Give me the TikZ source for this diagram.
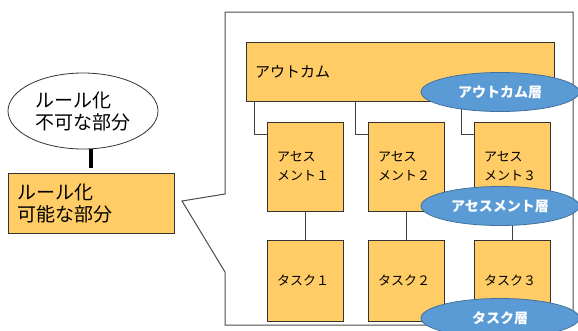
\documentclass[tikz,border=0pt]{standalone}
\usepackage{fontspec}
\setmainfont{Noto Sans CJK JP}
\usetikzlibrary{shapes}
\definecolor{boxfill}{RGB}{255,204,102}
\definecolor{layerfill}{RGB}{91,155,213}
\definecolor{layerline}{RGB}{65,113,156}
\begin{document}
\begin{tikzpicture}[x=1pt,y=-1pt]
  \tikzstyle{box}=[rectangle,draw=black!80,fill=boxfill,line width=0.8pt,align=left,inner ysep=0pt,font=\fontsize{15}{19}\selectfont]
  \tikzstyle{layer}=[ellipse,draw=layerline,fill=layerfill,line width=0.8pt,minimum width=158pt,minimum height=39pt,text=white,font=\bfseries\fontsize{14}{16}\selectfont]
  \tikzstyle{link}=[draw=black!75,line width=0.8pt]
  \useasboundingbox (0,0) rectangle (578,330);
  % callout frame
  \draw[black!70,line width=1pt] (225,12) -- (573,12) -- (573,325) -- (225,325) -- (225,272) -- (182,201) -- (225,194) -- cycle;
  % left side
  \node[ellipse,draw=black!80,line width=0.8pt,fill=white,minimum width=150pt,minimum height=76pt,align=left,font=\fontsize{19}{22}\selectfont] (ruleN) at (83,111) {ルール化\\不可な部分};
  \node[box,inner xsep=9pt,text width=148pt,minimum height=60pt,font=\fontsize{19}{22}\selectfont] (ruleY) at (91,203) {ルール化\\可能な部分};
  \draw[line width=4pt,shorten >=5pt] (ruleY.north |- ruleN.south) -- (ruleY.north);
  % outcome / assessment / task
  \node[box,inner xsep=9pt,text width=290pt,minimum height=59pt] (out) at (400,71.5) {アウトカム};
  \node[box,inner xsep=10pt,text width=56pt,minimum height=89pt,font=\fontsize{13}{19}\selectfont] (asm1) at (305,166.5) {アセス\\メント１};
  \node[box,inner xsep=10pt,text width=56pt,minimum height=89pt,font=\fontsize{13}{19}\selectfont] (asm2) at (406,166.5) {アセス\\メント２};
  \node[box,inner xsep=10pt,text width=56pt,minimum height=89pt,font=\fontsize{13}{19}\selectfont] (asm3) at (512,166.5) {アセス\\メント３};
  \node[box,inner xsep=10pt,text width=56pt,minimum height=81pt,font=\fontsize{13}{19}\selectfont] (task1) at (305,280.5) {タスク１};
  \node[box,inner xsep=10pt,text width=56pt,minimum height=81pt,font=\fontsize{13}{19}\selectfont] (task2) at (406,280.5) {タスク２};
  \node[box,inner xsep=10pt,text width=56pt,minimum height=81pt,font=\fontsize{13}{19}\selectfont] (task3) at (512,280.5) {タスク３};
  \foreach \i in {1,2,3} {
    \draw[link] ([yshift=-13pt]asm\i.north west) -| ([xshift=-12pt]asm\i.north west |- out.south);
    \draw[link] (asm\i.south) -- (task\i.north);
  }
  % layer labels
  \node[layer] (outL) at (500,92) {アウトカム層};
  \node[layer] (asmL) at (500,206) {アセスメント層};
  \node[layer] (taskL) at (500,318) {タスク層};
\end{tikzpicture}
\end{document}
